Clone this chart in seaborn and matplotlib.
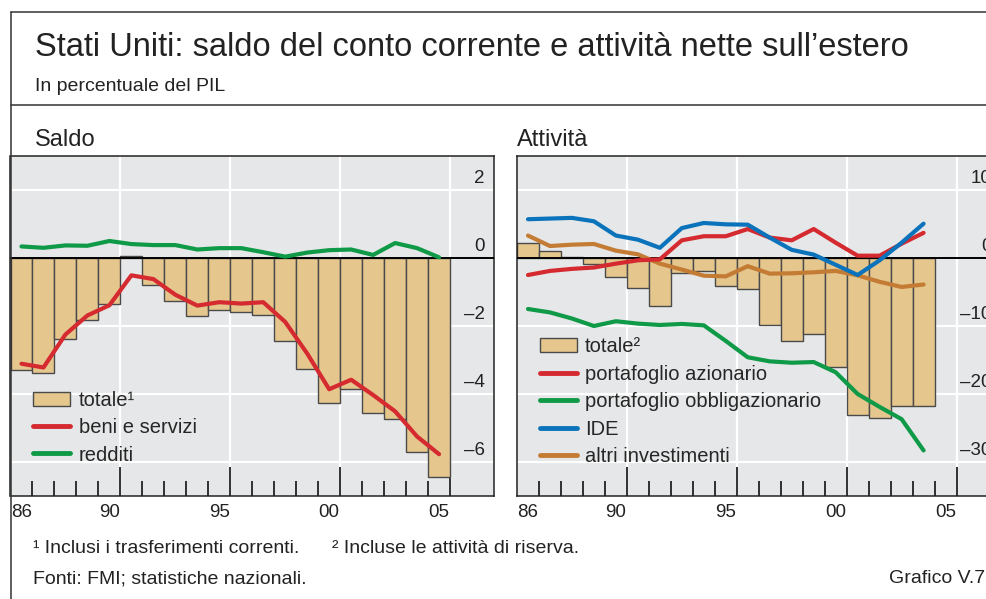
import numpy as np
import pandas as pd
import seaborn as sns
import matplotlib.pyplot as plt
from matplotlib.lines import Line2D
from matplotlib.patches import Patch
from matplotlib.transforms import blended_transform_factory

# Saldo (percent of GDP), 1986-2005
years_saldo = list(range(1986, 2006))
saldo_totale = [-3.30, -3.38, -2.38, -1.81, -1.36, 0.05, -0.79, -1.27, -1.72, -1.54,
                -1.60, -1.69, -2.45, -3.25, -4.25, -3.84, -4.55, -4.74, -5.70, -6.45]
beni_servizi = [-3.11, -3.22, -2.25, -1.69, -1.39, -0.51, -0.62, -1.08, -1.40, -1.30,
                -1.34, -1.30, -1.88, -2.81, -3.86, -3.58, -4.03, -4.51, -5.25, -5.77]
redditi = [0.34, 0.30, 0.37, 0.36, 0.50, 0.41, 0.38, 0.38, 0.25, 0.29,
           0.29, 0.17, 0.04, 0.16, 0.23, 0.25, 0.09, 0.44, 0.29, 0.02]

# Attivita (percent of GDP), 1986-2004
years_att = list(range(1986, 2005))
att_totale = [2.2, 1.08, 0.15, -0.88, -2.84, -4.36, -7.1, -2.2, -1.86, -4.12,
              -4.6, -9.85, -12.25, -11.18, -16.1, -23.1, -23.5, -21.7, -21.7]
port_azionario = [-2.5, -1.9, -1.6, -1.4, -0.83, -0.34, -0.2, 2.6, 3.2, 3.2,
                  4.26, 3.0, 2.6, 4.26, 2.25, 0.34, 0.34, 2.1, 3.7]
port_obblig = [-7.5, -8.0, -8.9, -10.0, -9.3, -9.65, -9.85, -9.7, -9.9, -12.2,
               -14.6, -15.2, -15.4, -15.3, -16.8, -20.0, -21.9, -23.7, -28.3]
ide = [5.7, 5.8, 5.9, 5.4, 3.3, 2.7, 1.5, 4.4, 5.15, 4.95,
       4.9, 3.0, 1.2, 0.5, -1.0, -2.5, -0.34, 2.25, 5.05]
altri_inv = [3.3, 1.76, 1.96, 2.06, 1.08, 0.54, -0.83, -1.7, -2.6, -2.7,
             -1.2, -2.3, -2.25, -2.1, -1.9, -2.55, -3.5, -4.26, -3.9]

xtick_years = [1986, 1990, 1995, 2000, 2005]
xtick_labels = ["86", "90", "95", "00", "05"]
saldo_yticks = [2, 0, -2, -4, -6]
att_yticks = [10, 0, -10, -20, -30]

BAR = "#e5c68d"
RED = "#d42a30"
GREEN = "#0f9a48"
BLUE = "#0b73bb"
BROWN = "#c47c35"
BG = "#e6e7e8"
INK = "#222222"

sns.set_theme(style="white")
plt.rcParams["font.family"] = ["Liberation Sans", "DejaVu Sans"]

fig = plt.figure(figsize=(9.87, 5.99), dpi=100)
W, H = 987, 599


def px_axes(x0, y0, x1, y1):
    return fig.add_axes([x0 / W, 1 - y1 / H, (x1 - x0) / W, (y1 - y0) / H])


ax1 = px_axes(10.5, 156, 494, 496)
ax2 = px_axes(517, 156, 1000.5, 496)


def style_axis(ax, ylim, yticks):
    ax.set_facecolor(BG)
    ax.set_xlim(1985.5, 2007.5)
    ax.set_ylim(*ylim)
    for v in yticks:
        if v != 0:
            ax.axhline(v, color="white", lw=1.6, zorder=0.5)
    for yr in [1990, 1995, 2000, 2005]:
        ax.axvline(yr + 0.5, color="white", lw=1.6, zorder=0.5)
    ax.axhline(0, color="black", lw=1.4, zorder=3)
    for sp in ax.spines.values():
        sp.set_color(INK)
        sp.set_linewidth(1.1)
    ax.set_yticks([])
    # inward ticks at year boundaries
    minor = [y + 0.5 for y in range(1986, 2005)]
    major = [1990.5, 1995.5, 2000.5, 2005.5]
    ax.set_xticks(major)
    ax.set_xticks([m for m in minor if m not in major], minor=True)
    ax.tick_params(axis="x", which="major", direction="in", length=21, width=1.3,
                   color=INK, labelbottom=False, bottom=True)
    ax.tick_params(axis="x", which="minor", direction="in", length=10.5, width=1.3,
                   color=INK, bottom=True)
    trb = blended_transform_factory(ax.transData, ax.transAxes)
    for yr, lab in zip(xtick_years, xtick_labels):
        ax.text(yr, -0.062, lab, transform=trb, ha="center", va="baseline",
                fontsize=13.5, color=INK, clip_on=False)
    trr = blended_transform_factory(ax.transAxes, ax.transData)
    for v in yticks:
        lab = str(v) if v >= 0 else "\u2013" + str(abs(v))
        ax.text(0.981, v + (ylim[1] - ylim[0]) * 0.022, lab, transform=trr,
                ha="right", va="baseline", fontsize=13.5, color=INK)
    ax.set_xlabel("")
    ax.set_ylabel("")


leg_kw = dict(loc="upper left", frameon=False, fontsize=14.5, handlelength=1.85,
              handleheight=0.7, handletextpad=0.4, labelspacing=0.42,
              borderpad=0, borderaxespad=0)

# Left panel: Saldo
ax1.bar(years_saldo, saldo_totale, width=1.0, color=BAR, edgecolor="#4a4a4a",
        linewidth=1.0, zorder=2)
sns.lineplot(x=years_saldo, y=beni_servizi, ax=ax1, color=RED, lw=3, zorder=4)
sns.lineplot(x=years_saldo, y=redditi, ax=ax1, color=GREEN, lw=3, zorder=4)
style_axis(ax1, (-7, 3), saldo_yticks)

h1 = [Patch(facecolor=BAR, edgecolor="#4a4a4a", lw=1.0),
      Line2D([], [], color=RED, lw=3.5),
      Line2D([], [], color=GREEN, lw=3.5)]
ax1.legend(h1, ["totale\u00b9", "beni e servizi", "redditi"],
           bbox_to_anchor=(0.047, 0.31), **leg_kw)

# Right panel: Attivita
ax2.bar(years_att, att_totale, width=1.0, color=BAR, edgecolor="#4a4a4a",
        linewidth=1.0, zorder=2)
sns.lineplot(x=years_att, y=altri_inv, ax=ax2, color=BROWN, lw=3, zorder=4)
sns.lineplot(x=years_att, y=port_obblig, ax=ax2, color=GREEN, lw=3, zorder=4)
sns.lineplot(x=years_att, y=port_azionario, ax=ax2, color=RED, lw=3, zorder=4)
sns.lineplot(x=years_att, y=ide, ax=ax2, color=BLUE, lw=3, zorder=4)
style_axis(ax2, (-35, 15), att_yticks)

h2 = [Patch(facecolor=BAR, edgecolor="#4a4a4a", lw=1.0),
      Line2D([], [], color=RED, lw=3.5),
      Line2D([], [], color=GREEN, lw=3.5),
      Line2D([], [], color=BLUE, lw=3.5),
      Line2D([], [], color=BROWN, lw=3.5)]
ax2.legend(h2, ["totale\u00b2", "portafoglio azionario", "portafoglio obbligazionario",
                "IDE", "altri investimenti"],
           bbox_to_anchor=(0.047, 0.467), **leg_kw)

# Frame and texts
fig.add_artist(Line2D([10.7 / W, 10.7 / W], [0, 1 - 12.3 / H], color="#333333", lw=1.1))
fig.add_artist(Line2D([10.7 / W, 1], [1 - 12.3 / H, 1 - 12.3 / H], color="#333333", lw=1.1))
fig.add_artist(Line2D([10.7 / W, 1], [1 - 105 / H, 1 - 105 / H], color="#333333", lw=1.1))

fig.text(35 / W, 1 - 56 / H, "Stati Uniti: saldo del conto corrente e attività nette sull\u2019estero",
         fontsize=23.5, va="baseline", color=INK)
fig.text(35 / W, 1 - 91 / H, "In percentuale del PIL", fontsize=14, va="baseline", color=INK)
fig.text(35 / W, 1 - 145.5 / H, "Saldo", fontsize=17, va="baseline", color=INK)
fig.text(517 / W, 1 - 145.5 / H, "Attività", fontsize=17, va="baseline", color=INK)
fig.text(33 / W, 1 - 553 / H, "\u00b9 Inclusi i trasferimenti correnti.",
         fontsize=14, va="baseline", color=INK)
fig.text(332 / W, 1 - 553 / H, "\u00b2 Incluse le attività di riserva.",
         fontsize=14, va="baseline", color=INK)
fig.text(33 / W, 1 - 583 / H, "Fonti: FMI; statistiche nazionali.", fontsize=14,
         va="baseline", color=INK)
fig.text(985 / W, 1 - 583 / H, "Grafico V.7", fontsize=14, va="baseline", ha="right",
         color=INK)

fig.savefig("out.png", dpi=100)
